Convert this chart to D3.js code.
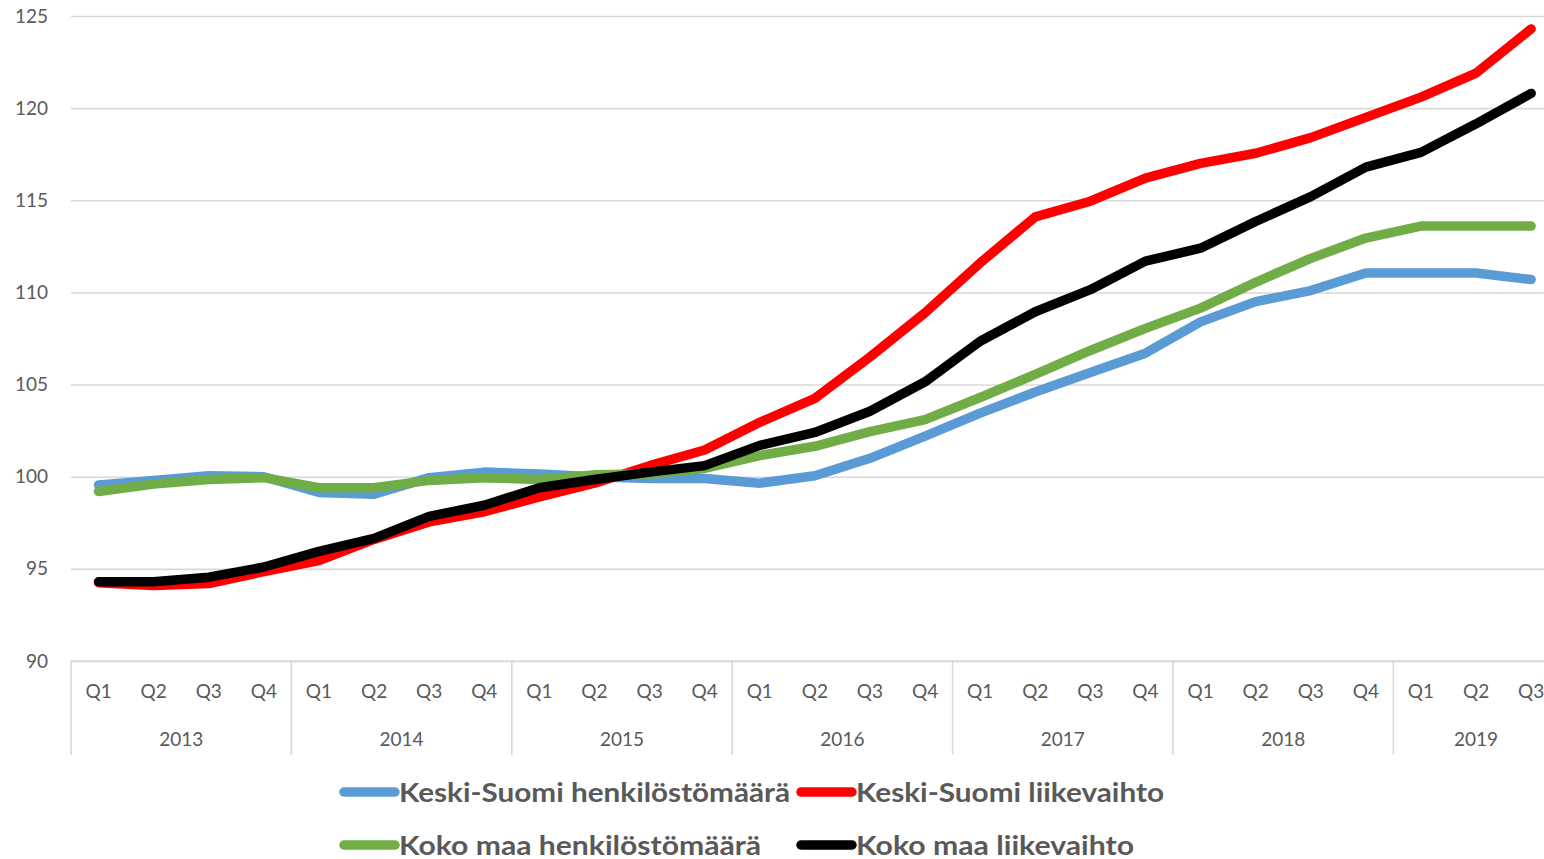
<!DOCTYPE html>
<html>
<head>
<meta charset="utf-8">
<script src="https://cdn.jsdelivr.net/npm/d3@7"></script>
<style>
  body { margin: 0; background: #fff; }
  svg text { font-family: Lato, "Open Sans", sans-serif; fill: #595959; }
</style>
</head>
<body>
<div id="chart"></div>
<script>
var years = ["2013", "2014", "2015", "2016", "2017", "2018", "2019"]
var quarters = ["Q1", "Q2", "Q3", "Q4"]
var yTicks = [90, 95, 100, 105, 110, 115, 120, 125]

var ksHenk = [99.55, 99.8, 100.05, 100.0, 99.15, 99.05, 99.95, 100.25, 100.15, 100.0, 99.9, 99.9, 99.65, 100.05, 101.0, 102.2, 103.45, 104.6, 105.65, 106.7, 108.4, 109.5, 110.1, 111.05, 111.05, 111.05, 110.7]
var ksLiike = [94.25, 94.1, 94.2, 94.85, 95.45, 96.6, 97.55, 98.1, 98.9, 99.65, 100.6, 101.45, 102.95, 104.25, 106.5, 108.9, 111.6, 114.1, 114.95, 116.2, 117.0, 117.55, 118.4, 119.5, 120.6, 121.9, 124.3]
var kmHenk = [99.2, 99.6, 99.85, 99.95, 99.4, 99.4, 99.8, 99.95, 99.85, 100.1, 100.15, 100.45, 101.15, 101.65, 102.45, 103.1, 104.3, 105.55, 106.85, 108.05, 109.15, 110.55, 111.85, 112.95, 113.6, 113.6, 113.6]
var kmLiike = [94.3, 94.3, 94.55, 95.1, 95.95, 96.65, 97.85, 98.45, 99.4, 99.85, 100.25, 100.6, 101.7, 102.4, 103.55, 105.15, 107.35, 108.95, 110.15, 111.7, 112.4, 113.85, 115.2, 116.8, 117.6, 119.15, 120.8]

var seriesNames = ["Keski-Suomi henkilöstömäärä", "Keski-Suomi liikevaihto", "Koko maa henkilöstömäärä", "Koko maa liikevaihto"]
var seriesColors = ["#5b9bd5", "#ff0000", "#70ad47", "#000000"]
var seriesValues = [ksHenk, ksLiike, kmHenk, kmLiike]

// build category list (year + quarter) up to the last value
var cats = []
years.forEach(function (y) {
  quarters.forEach(function (q) {
    if (cats.length < ksHenk.length) cats.push({ year: y, q: q, key: y + q })
  })
})

var width = 1544,
  height = 859,
  plotLeft = 71,
  plotTop = 16,
  plotBottom = 661,
  step = 55.1

var svg = d3.select("#chart")
  .append("svg")
  .attr("width", width)
  .attr("height", height)

var x = d3.scaleBand()
  .domain(cats.map(function (d) { return d.key }))
  .range([plotLeft, plotLeft + step * cats.length])
  .padding(0)

var y = d3.scaleLinear()
  .domain([90, 125])
  .range([plotBottom, plotTop])

// gridlines + y labels
var yAxis = svg.append("g")
  .attr("transform", "translate(" + plotLeft + ",0)")
  .call(d3.axisLeft(y).tickValues(yTicks).tickSize(-(width - plotLeft + 40)).tickPadding(23))
yAxis.select(".domain").remove()
yAxis.selectAll("line").attr("stroke", "#d9d9d9").attr("stroke-width", 1.6)
yAxis.selectAll("text").style("font-size", "19px").attr("fill", "#595959")

// x axis: quarter labels
var xAxis = svg.append("g")
  .attr("transform", "translate(0," + plotBottom + ")")
  .call(d3.axisBottom(x).tickSize(0).tickPadding(24).tickFormat(function (k) {
    return cats.find(function (c) { return c.key === k }).q
  }))
xAxis.select(".domain").remove()
xAxis.selectAll("text").style("font-size", "19px").attr("fill", "#595959")

svg.append("line")
  .attr("x1", plotLeft).attr("x2", width + 20)
  .attr("y1", plotBottom).attr("y2", plotBottom)
  .attr("stroke", "#d9d9d9").attr("stroke-width", 1.6)

// year groups
var yearSpans = years.map(function (yr) {
  var inYear = cats.filter(function (c) { return c.year === yr })
  return {
    year: yr,
    x0: x(inYear[0].key),
    x1: x(inYear[inYear.length - 1].key) + x.bandwidth()
  }
})

svg.selectAll(".sep")
  .data(yearSpans)
  .enter()
  .append("line")
  .attr("x1", function (d) { return d.x0 })
  .attr("x2", function (d) { return d.x0 })
  .attr("y1", plotBottom)
  .attr("y2", plotBottom + 94)
  .attr("stroke", "#d9d9d9")
  .attr("stroke-width", 1.6)

svg.selectAll(".year")
  .data(yearSpans)
  .enter()
  .append("text")
  .attr("x", function (d) { return (d.x0 + d.x1) / 2 })
  .attr("y", plotBottom + 85)
  .attr("text-anchor", "middle")
  .style("font-size", "19px")
  .text(function (d) { return d.year })

// lines
var line = d3.line()
  .x(function (d, i) { return x(cats[i].key) + x.bandwidth() / 2 })
  .y(function (d) { return y(d) })

svg.selectAll(".series")
  .data(seriesValues)
  .enter()
  .append("path")
  .attr("d", line)
  .attr("fill", "none")
  .attr("stroke", function (d, i) { return seriesColors[i] })
  .attr("stroke-width", 9.5)
  .attr("stroke-linecap", "round")
  .attr("stroke-linejoin", "round")

// legend
var legendX = [340, 797]
var legendY = [792, 845]
var legendW = [391, 308, 362, 278]

var legend = svg.selectAll(".legend")
  .data(seriesNames)
  .enter()
  .append("g")
  .attr("transform", function (d, i) {
    return "translate(" + legendX[i % 2] + "," + legendY[Math.floor(i / 2)] + ")"
  })

legend.append("line")
  .attr("x1", 4).attr("x2", 55)
  .attr("y1", 0).attr("y2", 0)
  .attr("stroke", function (d, i) { return seriesColors[i] })
  .attr("stroke-width", 9.5)
  .attr("stroke-linecap", "round")

legend.append("text")
  .attr("x", 59)
  .attr("y", 10)
  .style("font-size", "27px")
  .style("font-weight", "bold")
  .attr("textLength", function (d, i) { return legendW[i] })
  .attr("lengthAdjust", "spacingAndGlyphs")
  .text(function (d) { return d })
</script>
</body>
</html>
